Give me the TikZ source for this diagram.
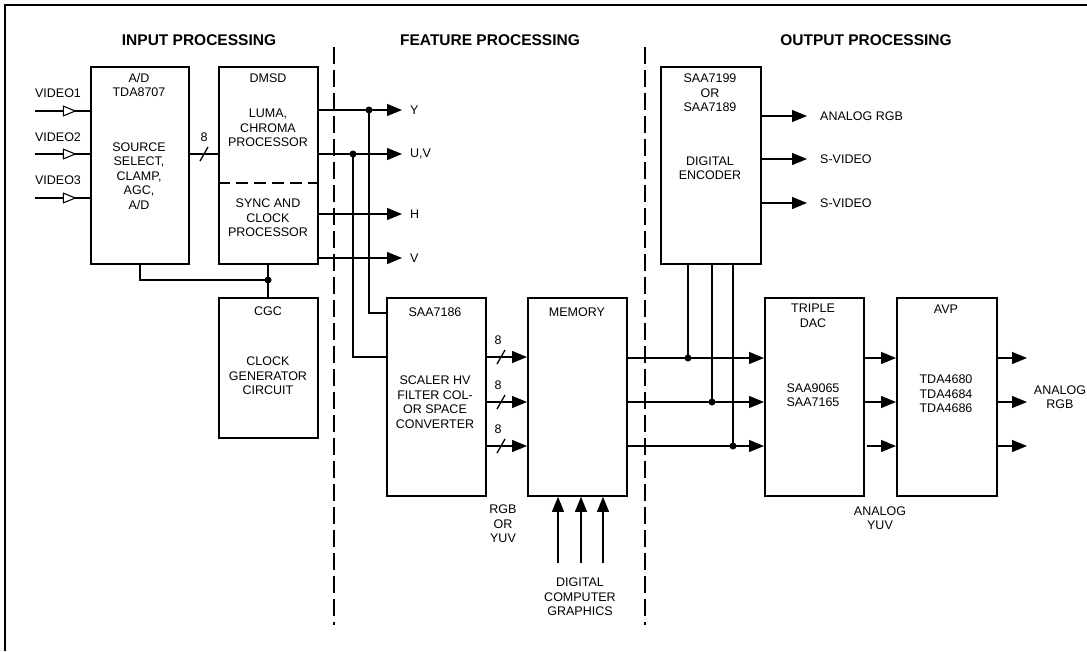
\documentclass[tikz,border=0pt]{standalone}
\usepackage{fontspec}
\setmainfont{Liberation Sans}
\usetikzlibrary{arrows.meta,decorations.markings}

\tikzset{
  blk/.style={draw, line width=1.8pt, inner sep=0pt, anchor=north west},
  lbl/.style={font=\fontsize{12.5}{14.5}\selectfont, align=center, inner sep=0pt},
  hdr/.style={font=\fontsize{15.5}{18}\selectfont\bfseries, inner sep=0pt},
  wire/.style={line width=1.3pt},
  sig/.style={wire, -{Triangle[length=15pt,width=12pt]}},
  jdot/.style={circle, fill, inner sep=0pt, minimum size=7pt},
  sepline/.style={line width=1.1pt, dash pattern=on 17pt off 6pt},
  vin/.style={wire, postaction={decorate}, decoration={markings,
      mark=at position 0.76 with {\arrow{Triangle[open,fill=white,length=14pt,width=11pt,line width=1.1pt]}}}},
}

\begin{document}
\begin{tikzpicture}[x=1pt,y=-1pt]
\useasboundingbox (0,0) rectangle (1087,651);

% frame and separators
\draw[line width=1.2pt] (5,651) -- (5,5) -- (1087,5);
\draw[sepline] (334,47) -- (334,625);
\draw[sepline] (645,47) -- (645,625);
\node[hdr] (hin) at (199,40) {INPUT PROCESSING};
\node[hdr] (hfeat) at (490,40) {FEATURE PROCESSING};
\node[hdr] (hout) at (866,40) {OUTPUT PROCESSING};

% blocks
\node[blk, minimum width=98pt, minimum height=197pt] (ad) at (90,66) {};
\node[blk, minimum width=99pt, minimum height=197pt] (dmsd) at (218,66) {};
\node[blk, minimum width=99pt, minimum height=140pt] (cgc) at (218,297) {};
\node[blk, minimum width=99pt, minimum height=198pt] (saa) at (386,297) {};
\node[blk, minimum width=99pt, minimum height=198pt] (mem) at (527,297) {};
\node[blk, minimum width=100pt, minimum height=197pt] (enc) at (660,66) {};
\node[blk, minimum width=99pt, minimum height=198pt] (dac) at (764,297) {};
\node[blk, minimum width=100pt, minimum height=198pt] (avp) at (896,297) {};
\draw[line width=1.3pt, dash pattern=on 12pt off 6pt] (dmsd.west |- 0,183) -- (dmsd.east |- 0,183);

% block texts
\node[lbl] (adt) at (139,85) {A/D\\TDA8707};
\node[lbl] (adb) at (139,176) {SOURCE\\SELECT,\\CLAMP,\\AGC,\\A/D};
\node[lbl] (dmsdt) at (268,78) {DMSD};
\node[lbl] (dmsdu) at (268,128) {LUMA,\\CHROMA\\PROCESSOR};
\node[lbl] (dmsdl) at (268,218) {SYNC AND\\CLOCK\\PROCESSOR};
\node[lbl] (cgct) at (268,311) {CGC};
\node[lbl] (cgcb) at (268,376) {CLOCK\\GENERATOR\\CIRCUIT};
\node[lbl] (saat) at (435,312) {SAA7186};
\node[lbl] (saab) at (435,402) {SCALER HV\\FILTER COL-\\OR SPACE\\CONVERTER};
\node[lbl] (memt) at (577,312) {MEMORY};
\node[lbl] (enct) at (710,93) {SAA7199\\OR\\SAA7189};
\node[lbl] (encb) at (710,168) {DIGITAL\\ENCODER};
\node[lbl] (dact) at (813,316) {TRIPLE\\DAC};
\node[lbl] (dacb) at (813,395) {SAA9065\\SAA7165};
\node[lbl] (avpt) at (946,309) {AVP};
\node[lbl] (avpb) at (946,394) {TDA4680\\TDA4684\\TDA4686};

% video inputs
\node[lbl] (v1) at (58,93) {VIDEO1};
\node[lbl] (v2) at (58,137) {VIDEO2};
\node[lbl] (v3) at (58,180) {VIDEO3};
\coordinate (vin1) at (35,111);
\coordinate (vin2) at (35,154);
\coordinate (vin3) at (35,198);
\foreach \i in {1,2,3}
  \draw[vin] (vin\i) -- (ad.west |- vin\i);

% A/D to DMSD bus
\draw[wire] (ad.east |- 0,154) -- (dmsd.west |- 0,154);
\draw[wire] (200,161) -- (208,147);
\node[lbl] (bus1) at (204,137) {8};

% DMSD outputs
\node[lbl, anchor=west] (ylbl) at (410,110) {Y};
\node[lbl, anchor=west] (uvlbl) at (410,154) {U,V};
\node[lbl, anchor=west] (hlbl) at (410,214) {H};
\node[lbl, anchor=west] (vlbl) at (410,258) {V};
\draw[sig, shorten >=8pt] (dmsd.east |- ylbl.west) -- (ylbl.west);
\draw[sig, shorten >=8pt] (dmsd.east |- uvlbl.west) -- (uvlbl.west);
\draw[sig, shorten >=8pt] (dmsd.east |- hlbl.west) -- (hlbl.west);
\draw[sig, shorten >=8pt] (dmsd.east |- vlbl.west) -- (vlbl.west);
\node[jdot] (ydot) at (369,110) {};
\node[jdot] (uvdot) at (353,154) {};
\draw[wire] (ydot.center) |- (saa.west |- 0,313);
\draw[wire] (uvdot.center) |- (saa.west |- 0,357);

% clock generator
\node[jdot] (cdot) at (268,280) {};
\draw[wire] (ad.south) |- (cdot.center);
\draw[wire] (dmsd.south -| cdot) -- (cgc.north -| cdot);

% scaler to memory
\foreach \y/\n in {357/1,402/2,446/3} {
  \draw[sig] (saa.east |- 0,\y) -- (mem.west |- 0,\y);
  \draw[wire] (497,\y+7) -- (505,\y-7);
  \node[lbl] (bw\n) at (498,\y-17) {8};
}
\node[lbl] (rgbyuv) at (503,524) {RGB\\OR\\YUV};

% computer graphics in
\node[lbl] (dcg) at (580,597) {DIGITAL\\COMPUTER\\GRAPHICS};
\foreach \x/\n in {558/1,581/2,603/3} {
  \coordinate (g\n) at (\x,563);
  \draw[sig] (g\n) -- (mem.south -| g\n);
}

% memory to DAC, tapped by encoder
\foreach \y/\x/\n in {358/688/1,402/712/2,446/733/3} {
  \draw[sig] (mem.east |- 0,\y) -- (dac.west |- 0,\y);
  \node[jdot] (md\n) at (\x,\y) {};
  \draw[wire] (enc.south -| md\n) -- (md\n.center);
}

% encoder outputs
\node[lbl, anchor=west] (argb) at (820,116) {ANALOG RGB};
\node[lbl, anchor=west] (sv1) at (820,159) {S-VIDEO};
\node[lbl, anchor=west] (sv2) at (820,203) {S-VIDEO};
\draw[sig, shorten >=13pt] (enc.east |- argb.west) -- (argb.west);
\draw[sig, shorten >=13pt] (enc.east |- sv1.west) -- (sv1.west);
\draw[sig, shorten >=13pt] (enc.east |- sv2.west) -- (sv2.west);

% DAC to AVP and outputs
\node[lbl] (ayuv) at (880,518) {ANALOG\\YUV};
\node[lbl] (orgb) at (1060,397) {ANALOG\\RGB};
\coordinate (dacout3) at (867,446);
\draw[sig] (dac.east |- 0,358) -- (avp.west |- 0,358);
\draw[sig] (dac.east |- 0,402) -- (avp.west |- 0,402);
\draw[sig] (dacout3) -- (avp.west |- dacout3);
\foreach \y/\n in {358/1,402/2,446/3} {
  \coordinate (out\n) at (1027,\y);
  \draw[sig] (avp.east |- out\n) -- (out\n);
}
\end{tikzpicture}
\end{document}
